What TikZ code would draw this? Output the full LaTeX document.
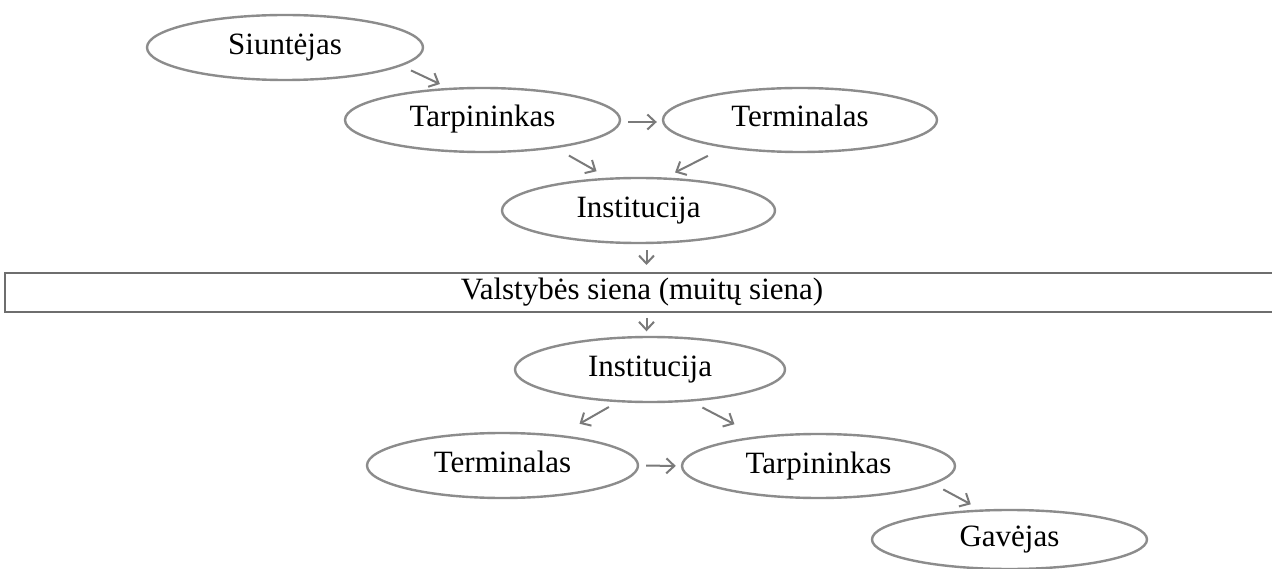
\documentclass[tikz,border=0pt]{standalone}
\usepackage{fontspec}
\setmainfont{Liberation Serif}
\usetikzlibrary{arrows.meta,shapes.geometric}
\definecolor{ellc}{HTML}{8C8C8C}
\definecolor{arrc}{HTML}{7A7A7A}
\definecolor{rectc}{HTML}{6E6E6E}
\begin{document}
\begin{tikzpicture}[x=1pt,y=-1pt,
  ell/.style={ellipse, draw=ellc, line width=2.4pt, inner sep=0pt,
    font=\fontsize{31}{34}\selectfont, text height=21pt, text depth=7pt},
  arr/.style={draw=arrc, line width=2pt, -{Straight Barb[length=8pt,width=15pt]}},
  wallbox/.style={draw=rectc, line width=2pt, inner sep=0pt,
    font=\fontsize{31}{34}\selectfont, text height=21pt, text depth=7pt}
]
\useasboundingbox (0,0) rectangle (1272,569);
\fill[white] (0,0) rectangle (1272,569);

\node[ell, minimum width=276pt, minimum height=65pt] (s)  at (285,47.5)  {Siuntėjas};
\node[ell, minimum width=275pt, minimum height=64pt] (t1) at (482.5,120) {Tarpininkas};
\node[ell, minimum width=274pt, minimum height=64pt] (r1) at (800,120)   {Terminalas};
\node[ell, minimum width=273pt, minimum height=65pt] (i1) at (638.5,210.5) {Institucija};
\node[wallbox, minimum width=1274pt, minimum height=39pt] (wall) at (642,292.5) {Valstybės siena (muitų siena)};
\node[ell, minimum width=270pt, minimum height=65pt] (i2) at (650,369.5) {Institucija};
\node[ell, minimum width=271pt, minimum height=65pt] (r2) at (502.5,465.5) {Terminalas};
\node[ell, minimum width=273pt, minimum height=64pt] (t2) at (818.5,466) {Tarpininkas};
\node[ell, minimum width=275pt, minimum height=59pt] (g)  at (1009.5,539.5) {Gavėjas};

\coordinate (c1) at ([xshift=8pt]i1.south);

\draw[arr, shorten <=10.5pt, shorten >=9pt] (s.-9) -- (t1.137);
\draw[arr, shorten <=7pt, shorten >=5pt] ([yshift=-2pt]t1.east) -- ([yshift=-2pt]r1.west);
\draw[arr, shorten <=15pt, shorten >=13pt] (t1.-21) -- (i1.133);
\draw[arr, shorten <=18pt, shorten >=11pt] (r1.200) -- (i1.51);
\draw[arr, shorten <=6pt, shorten >=7pt] (c1) -- (c1 |- wall.north);
\draw[arr, shorten <=5pt, shorten >=4.5pt] (c1 |- wall.south) -- (c1 |- i2.north);
\draw[arr, shorten <=9.7pt, shorten >=22.5pt] (i2.225.7) -- (r2.28.5);
\draw[arr, shorten <=12.7pt, shorten >=26pt] (i2.-38) -- (t2.154);
\draw[arr, shorten <=7pt, shorten >=5pt] (r2.east) -- (t2.west);
\draw[arr, shorten <=11pt, shorten >=11pt] (t2.-9.4) -- (g.134);
\end{tikzpicture}
\end{document}
